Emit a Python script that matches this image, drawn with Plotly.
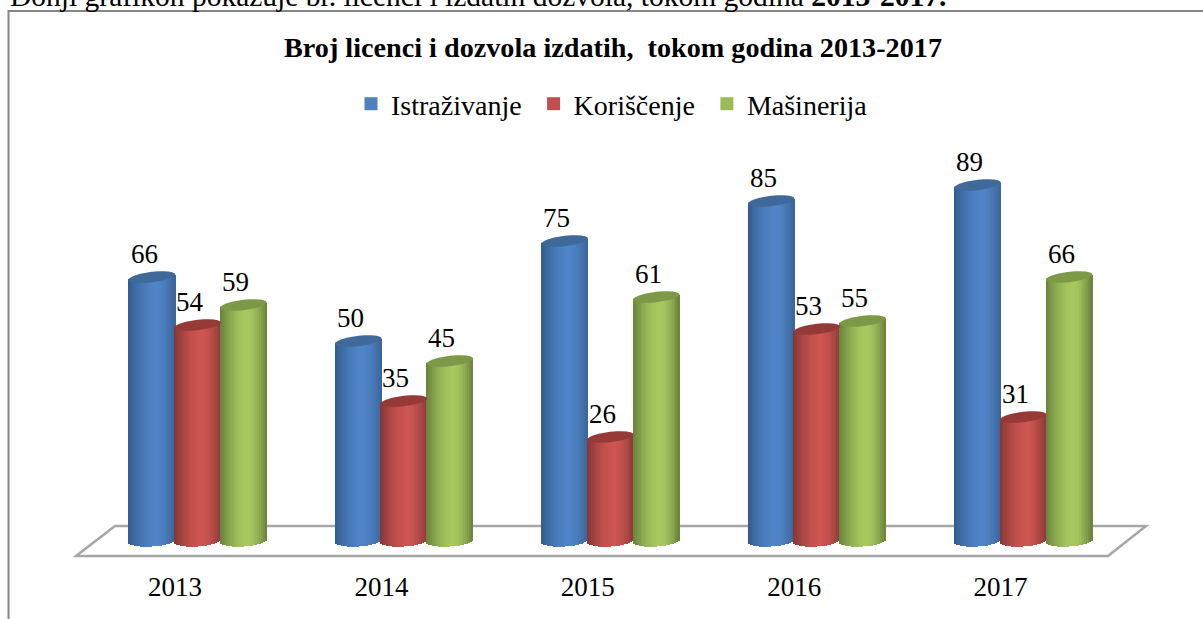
import math
import plotly.graph_objects as go

years = ["2013", "2014", "2015", "2016", "2017"]
istrazivanje = [66, 50, 75, 85, 89]
koriscenje = [54, 35, 26, 53, 31]
masinerija = [59, 45, 61, 55, 66]
series_names = ["Istraživanje", "Koriščenje", "Mašinerija"]
intro_plain = "Donji grafikon pokazuje br. licenci i izdatih dozvola, tokom godina "
intro_bold = "2013-2017."
title = "Broj licenci i dozvola izdatih,  tokom godina 2013-2017"

W, H = 1203, 619
PX_X0, PX_STEP = 175.0, 206.4
PX_Y0, PX_UNIT = 541.0, 4.0
PLOT_BOTTOM = 566
FONT = "Liberation Serif"

def dx(px):
    return px / PX_STEP
def dy(px):
    return px / PX_UNIT

def mix(a, b, t):
    return "rgb(%d,%d,%d)" % tuple(round(a[i] + (b[i] - a[i]) * t) for i in range(3))

styles = [
    dict(off=-23, edge_l=(50, 92, 142), mid=(80, 131, 200), edge_r=(58, 100, 150), top=(63, 105, 153), key="#4f81bd"),
    dict(off=22.5, edge_l=(132, 54, 52), mid=(205, 85, 82), edge_r=(140, 58, 56), top=(150, 58, 56), key="#c0504d"),
    dict(off=68.5, edge_l=(104, 130, 60), mid=(167, 200, 95), edge_r=(104, 128, 58), top=(125, 153, 72), key="#9bbb59"),
]
all_values = [istrazivanje, koriscenje, masinerija]

RX, RY, SHEAR = 23.3, 5.2, 2.6
BOTTOM_RY, BOTTOM_SHEAR = 5.5, 1.4
N = 24

fig = go.Figure()
shapes = []
annotations = []

for st, vals, name in zip(styles, all_values, series_names):
    xs, ys, bases, widths, colors = [], [], [], [], []
    sw = 2 * RX / N
    for i, v in enumerate(vals):
        cx = i + dx(st["off"])
        for k in range(N):
            u = -1 + (k + 0.5) * 2 / N
            arc = math.sqrt(max(0.0, 1 - u * u))
            bottom = -dy(BOTTOM_RY * arc) + dy(BOTTOM_SHEAR * u)
            top = v + dy(SHEAR * u)
            xs.append(cx + dx(u * RX))
            bases.append(bottom)
            ys.append(top - bottom)
            widths.append(dx(sw * 1.25))
            p = (u + 1) / 2
            if p < 0.6:
                colors.append(mix(st["edge_l"], st["mid"], math.sin(p / 0.6 * math.pi / 2)))
            else:
                colors.append(mix(st["mid"], st["edge_r"], ((p - 0.6) / 0.4) ** 1.6))
        pts = []
        for a in range(0, 360, 15):
            t = math.radians(a)
            px_x = RX * math.cos(t)
            px_y = RY * math.sin(t) + SHEAR * math.cos(t)
            pts.append((cx + dx(px_x), v + dy(px_y)))
        path = "M " + " L ".join(f"{x:.5f},{y:.4f}" for x, y in pts) + " Z"
        shapes.append(dict(type="path", xref="x", yref="y", path=path, fillcolor=mix(st["top"], st["top"], 0), line=dict(width=0), layer="above"))
        annotations.append(dict(x=cx, y=v, xref="x", yref="y", text=str(v), showarrow=False, xshift=-8, yshift=23,
                                yanchor="middle", font=dict(family=FONT, size=27, color="#000000")))
    fig.add_trace(go.Bar(x=xs, y=ys, base=bases, width=widths, marker=dict(color=colors, line=dict(width=0)),
                         showlegend=False, hoverinfo="skip", name=name))

for st, name in zip(styles, series_names):
    fig.add_trace(go.Scatter(x=[None], y=[None], mode="markers", name=name + "\u00a0",
                             marker=dict(symbol="square", size=13, color=st["key"])))

def px(x, y):
    return (x / W, 1 - y / PLOT_BOTTOM)

floor = [(76, 556), (1108, 556), (1146, 526), (115, 526)]
shapes.insert(0, dict(type="path", xref="paper", yref="paper",
                      path="M " + " L ".join("%.5f,%.5f" % px(*p) for p in floor) + " Z",
                      line=dict(color="#a6a6a6", width=2.5), fillcolor="rgba(0,0,0,0)", layer="below"))
frame = [(8.5, 619), (8.5, 11), (1203, 11)]
shapes.insert(0, dict(type="path", xref="paper", yref="paper",
                      path="M " + " L ".join("%.5f,%.5f" % px(*p) for p in frame),
                      line=dict(color="#868686", width=2), fillcolor="rgba(0,0,0,0)", layer="below"))

annotations.append(dict(x=8 / W, y=1, xref="paper", yref="paper", xanchor="left", yanchor="middle", yshift=4, showarrow=False,
                        text=intro_plain + "<b>" + intro_bold + "</b>", font=dict(family=FONT, size=29.5, color="#000000")))
annotations.append(dict(x=612.5 / W, y=px(0, 47)[1], xref="paper", yref="paper", xanchor="center", yanchor="middle", showarrow=False,
                        text="<b>" + title + "</b>", font=dict(family=FONT, size=28.2, color="#000000")))

fig.update_layout(
    width=W, height=H, autosize=False,
    margin=dict(l=0, r=0, t=0, b=H - PLOT_BOTTOM, pad=0),
    paper_bgcolor="#ffffff", plot_bgcolor="rgba(0,0,0,0)",
    barmode="overlay", bargap=0,
    shapes=shapes, annotations=annotations,
    font=dict(family=FONT, color="#000000"),
    xaxis=dict(range=[-PX_X0 / PX_STEP, (W - PX_X0) / PX_STEP], tickmode="array", tickvals=list(range(5)), ticktext=years,
               showgrid=False, zeroline=False, showline=False, ticks="", ticklabelstandoff=2,
               tickfont=dict(family=FONT, size=27, color="#000000"), fixedrange=True),
    yaxis=dict(range=[(PX_Y0 - PLOT_BOTTOM) / PX_UNIT, PX_Y0 / PX_UNIT], visible=False, fixedrange=True),
    legend=dict(orientation="h", x=615 / W, xanchor="center", y=px(0, 104)[1], yanchor="middle",
                font=dict(family=FONT, size=28, color="#000000"), bgcolor="rgba(0,0,0,0)", itemwidth=30, traceorder="normal"),
    hovermode=False,
)

fig.write_html("out.html", config={"displayModeBar": False},
               post_script="document.body.style.margin='0';document.body.style.overflow='hidden';")
